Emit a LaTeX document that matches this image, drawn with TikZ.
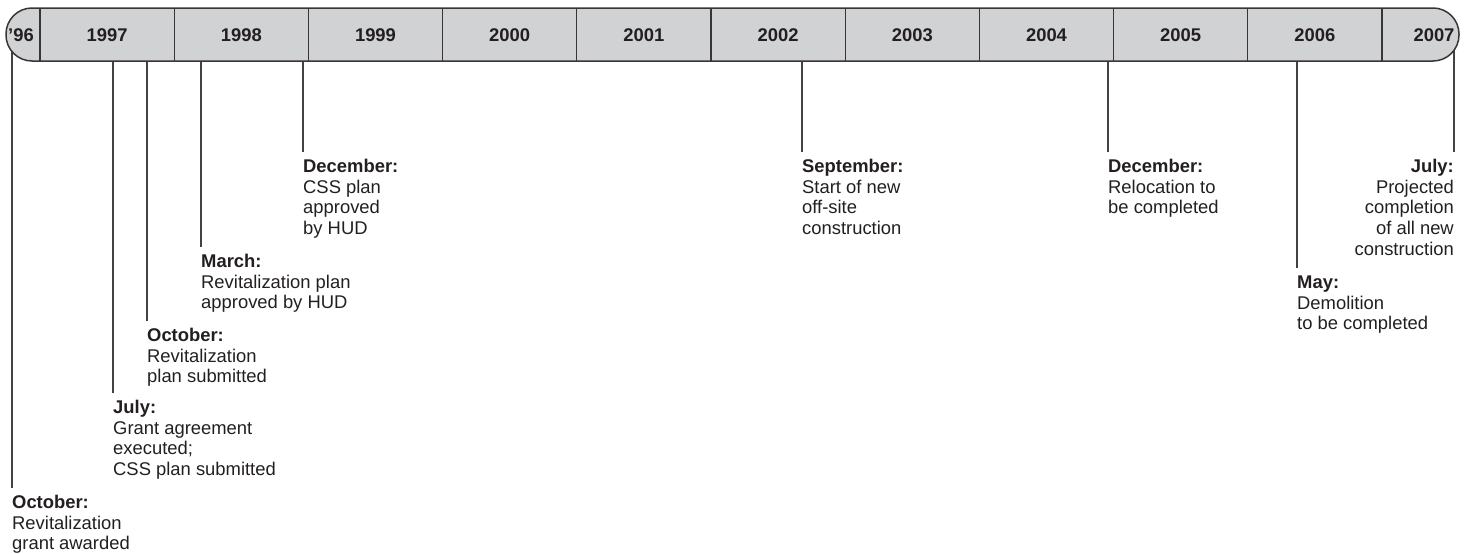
\documentclass[tikz,border=0pt]{standalone}
\usepackage{fontspec}
\setmainfont{Liberation Sans}
\definecolor{ink}{HTML}{231F20}
\definecolor{barfill}{HTML}{D1D2D4}
% invisible rule fixing the first line of each event label at 20pt above its baseline
\newcommand\evstrut{\rule{0pt}{20pt}}
\begin{document}
\begin{tikzpicture}[x=1pt,y=-1pt,
  yr/.style={font=\fontsize{18.4}{20}\selectfont\bfseries, text=ink, inner sep=0},
  evtext/.style={font=\fontsize{18.4}{20.8}\selectfont, text=ink, inner sep=0, align=left},
  evtextr/.style={evtext, align=right},
  evline/.style={draw=ink!85, line width=1.3pt},
  bar/.style={draw=ink!90, line width=1.5pt, fill=barfill, rounded corners=26pt},
  divider/.style={draw=ink!90, line width=1.1pt}]
\useasboundingbox (0,0) rectangle (1468,554);

% event labels
\node[evtext, anchor=north west] (oct96) at (12,488)
  {\evstrut\textbf{October:}\\Revitalization\\grant awarded};
\node[evtext, anchor=north west] (jul97) at (113,393)
  {\evstrut\textbf{July:}\\Grant agreement\\executed;\\CSS plan submitted};
\node[evtext, anchor=north west] (oct97) at (147,321)
  {\evstrut\textbf{October:}\\Revitalization\\plan submitted};
\node[evtext, anchor=north west] (mar98) at (201,247)
  {\evstrut\textbf{March:}\\Revitalization plan\\approved by HUD};
\node[evtext, anchor=north west] (dec98) at (303,152)
  {\evstrut\textbf{December:}\\CSS plan\\approved\\by HUD};
\node[evtext, anchor=north west] (sep02) at (802,152)
  {\evstrut\textbf{September:}\\Start of new\\off-site\\construction};
\node[evtext, anchor=north west] (dec04) at (1108,152)
  {\evstrut\textbf{December:}\\Relocation to\\be completed};
\node[evtext, anchor=north west] (may06) at (1297,268)
  {\evstrut\textbf{May:}\\Demolition\\to be completed};
\node[evtextr, anchor=north east] (jul07) at (1454,152)
  {\evstrut\textbf{July:}\\Projected\\completion\\of all new\\construction};

% points on the bar where each event line starts (hidden under the bar)
\coordinate (t-oct96) at (12,40);
\coordinate (t-jul97) at (113,40);
\coordinate (t-oct97) at (147,40);
\coordinate (t-mar98) at (201,40);
\coordinate (t-dec98) at (303,40);
\coordinate (t-sep02) at (802,40);
\coordinate (t-dec04) at (1108,40);
\coordinate (t-may06) at (1297,40);
\coordinate (t-jul07) at (1454,40);

\draw[evline] (t-oct96) -- (oct96.north west);
\draw[evline] (t-jul97) -- (jul97.north west);
\draw[evline] (t-oct97) -- (oct97.north west);
\draw[evline] (t-mar98) -- (mar98.north west);
\draw[evline] (t-dec98) -- (dec98.north west);
\draw[evline] (t-sep02) -- (sep02.north west);
\draw[evline] (t-dec04) -- (dec04.north west);
\draw[evline] (t-may06) -- (may06.north west);
\draw[evline] (t-jul07) -- (jul07.north east);

% the year bar
\draw[bar] (6,8) rectangle (1459,61);
\foreach \bx in {40,174.2,308.4,442.6,576.8,711,845.2,979.4,1113.6,1247.8,1382}
  \draw[divider] (\bx,8) -- (\bx,61);

\node[yr] (y96) at (21,35) {\symbol{39}96};
\node[yr] (y97) at (107.1,35) {1997};
\node[yr] (y98) at (241.3,35) {1998};
\node[yr] (y99) at (375.5,35) {1999};
\node[yr] (y00) at (509.7,35) {2000};
\node[yr] (y01) at (643.9,35) {2001};
\node[yr] (y02) at (778.1,35) {2002};
\node[yr] (y03) at (912.3,35) {2003};
\node[yr] (y04) at (1046.5,35) {2004};
\node[yr] (y05) at (1180.7,35) {2005};
\node[yr] (y06) at (1314.9,35) {2006};
\node[yr] (y07) at (1434,35) {2007};
\end{tikzpicture}
\end{document}
